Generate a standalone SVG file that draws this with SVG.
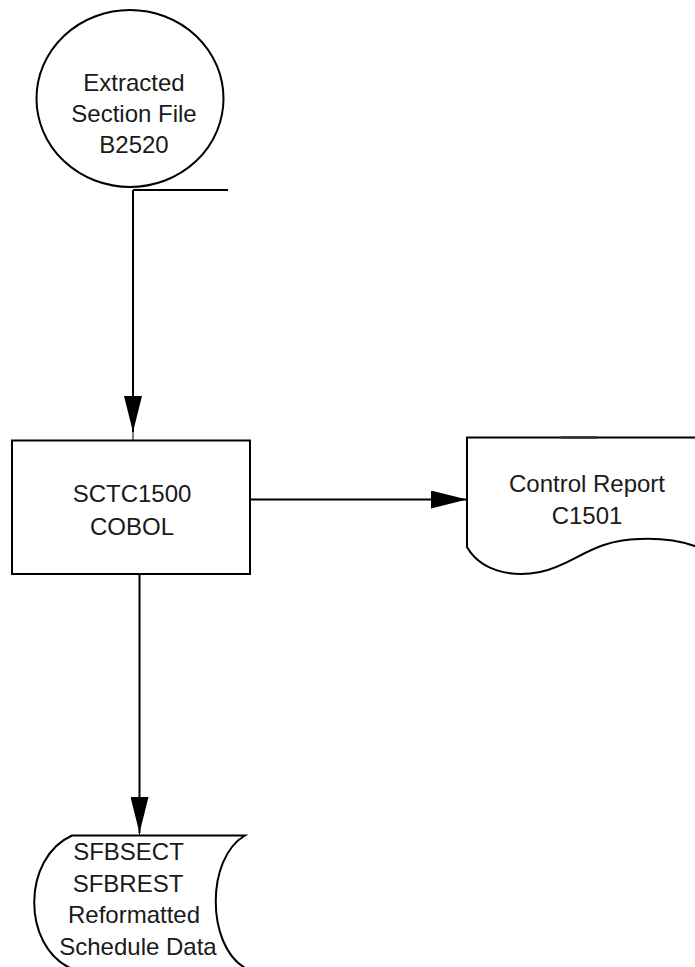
<svg xmlns="http://www.w3.org/2000/svg" width="695" height="967" viewBox="0 0 695 967">
  <style>
    .shape { fill: #ffffff; stroke: #000000; stroke-width: 2; }
    .edge { fill: none; stroke: #000000; stroke-width: 2; }
    .thin { fill: none; stroke: #000000; stroke-width: 1; }
    .label { font-family: "Liberation Sans", Arial, sans-serif; font-size: 24px; fill: #1a1a1a; text-anchor: middle; }
  </style>
  <defs>
    <marker id="arrow" markerUnits="userSpaceOnUse" viewBox="0 0 36 18" refX="36" refY="9" markerWidth="36" markerHeight="18" orient="auto">
      <path d="M0,0 L36,9 L0,18 Z" fill="#000000"/>
    </marker>
  </defs>

  <rect width="695" height="967" fill="#ffffff"/>

  <!-- input file -->
  <g id="extracted-section-file">
    <ellipse class="shape" cx="130" cy="98.5" rx="93.5" ry="88.5"/>
    <text class="label" x="134" y="91">Extracted</text>
    <text class="label" x="134" y="122">Section File</text>
    <text class="label" x="134" y="153">B2520</text>
  </g>

  <!-- program -->
  <g id="sctc1500">
    <rect class="shape" x="12" y="440.5" width="238" height="133.5"/>
    <text class="label" x="132" y="502">SCTC1500</text>
    <text class="label" x="132" y="535">COBOL</text>
  </g>

  <!-- printed report -->
  <g id="control-report">
    <path class="shape" d="M467,547 V437.5 H700 V548 C685,542 665,538 640,539 C590,540 575,565 540,572 C510,578 480,570 467,547 Z"/>
    <line x1="561" y1="437.5" x2="597" y2="437.5" stroke="#333333" stroke-width="2.6"/>
    <text class="label" x="587" y="492">Control Report</text>
    <text class="label" x="587" y="524">C1501</text>
  </g>

  <!-- stored data -->
  <g id="schedule-data">
    <path class="shape" d="M72,835.5 H245 C206,858 206,945 245,968 H70 C22,945 22,858 72,835.5 Z"/>
    <text class="label" x="128.5" y="860">SFBSECT</text>
    <text class="label" x="128" y="892">SFBREST</text>
    <text class="label" x="134" y="923">Reformatted</text>
    <text class="label" x="138" y="955">Schedule Data</text>
  </g>

  <!-- connectors -->
  <g id="connectors">
    <line class="edge" x1="133" y1="190" x2="228" y2="190"/>
    <line class="edge" x1="133" y1="190" x2="133" y2="432" marker-end="url(#arrow)"/>
    <line class="thin" x1="133" y1="432" x2="133" y2="440"/>
    <line class="edge" x1="250" y1="499.5" x2="467" y2="499.5" marker-end="url(#arrow)"/>
    <line class="edge" x1="139.5" y1="574" x2="139.5" y2="833" marker-end="url(#arrow)"/>
    <line class="thin" x1="139.5" y1="833" x2="139.5" y2="835"/>
  </g>
</svg>
